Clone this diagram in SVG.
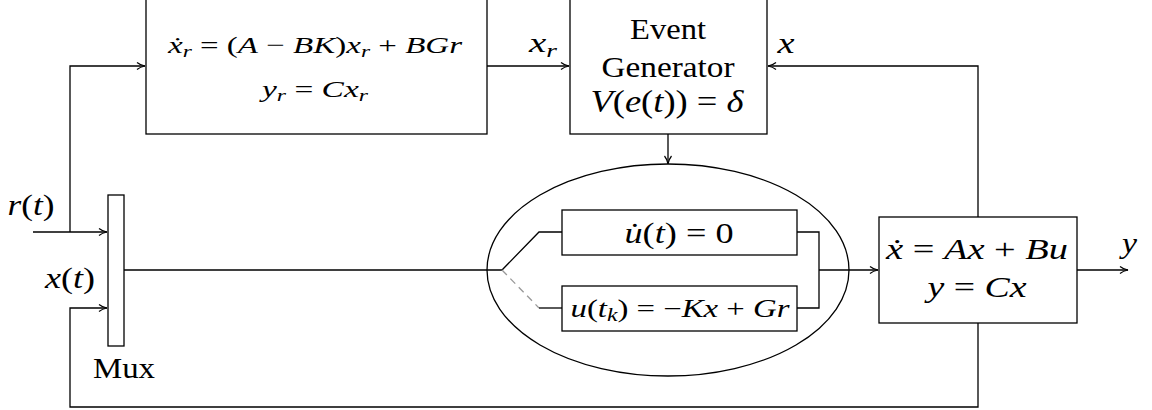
<svg xmlns="http://www.w3.org/2000/svg" width="1152" height="410" viewBox="0 0 1152 410">
<defs>
<marker id="arr" markerWidth="10" markerHeight="8" refX="9" refY="4" orient="auto" markerUnits="userSpaceOnUse">
<path d="M1,0.5 Q4,3 9,4 Q4,5 1,7.5" fill="none" stroke="#000" stroke-width="1.2"/>
</marker>
</defs>
<style>
.box{fill:#fff;stroke:#000;stroke-width:1.3}
.ln{fill:none;stroke:#000;stroke-width:1.3}
.dash{fill:none;stroke:#999;stroke-width:1.3;stroke-dasharray:7,5}
text{font-family:"Liberation Serif","DejaVu Serif",serif;fill:#000}
.m{font-style:italic}
.u{font-style:normal}
</style>
<g id="connectors">
<path class="ln" d="M487,66 H569" marker-end="url(#arr)"/>
<path class="ln" d="M978,217 V66 H768" marker-end="url(#arr)"/>
<path class="ln" d="M668,134 V164" marker-end="url(#arr)"/>
<path class="ln" d="M33,232 H107" marker-end="url(#arr)"/>
<path class="ln" d="M70,232 V66 H145" marker-end="url(#arr)"/>
<path class="ln" d="M978,323 V407 H70 V308 H107" marker-end="url(#arr)"/>
<path class="ln" d="M124,270 H502 L539,232 H562"/>
<path class="dash" d="M502,270 L539,308"/>
<path class="ln" d="M539,308 H562"/>
<path class="ln" d="M797,232 H819 V308 H797"/>
<path class="ln" d="M819,270 H878" marker-end="url(#arr)"/>
<path class="ln" d="M1077,270 H1128" marker-end="url(#arr)"/>
</g>
<g id="ellipse"><ellipse cx="668" cy="270" rx="181" ry="106" class="ln"/></g>
<g id="reference-model">
<rect class="box" x="146" y="-10" width="341" height="144"/>
<text x="315" y="53" font-size="24" text-anchor="middle" textLength="294" lengthAdjust="spacingAndGlyphs" class="m">ẋ<tspan font-size="17" dy="4">r</tspan><tspan dy="-4" class="u"> = (</tspan>A<tspan class="u"> − </tspan>BK<tspan class="u">)</tspan>x<tspan font-size="17" dy="4">r</tspan><tspan dy="-4" class="u"> + </tspan>BGr</text>
<text x="315" y="97" font-size="24" text-anchor="middle" textLength="106" lengthAdjust="spacingAndGlyphs" class="m">y<tspan font-size="17" dy="4">r</tspan><tspan dy="-4" class="u"> = </tspan>Cx<tspan font-size="17" dy="4">r</tspan></text>
</g>
<g id="event-generator">
<rect class="box" x="570" y="-10" width="197" height="144"/>
<text x="668" y="39" font-size="30" text-anchor="middle" textLength="76" lengthAdjust="spacingAndGlyphs">Event</text>
<text x="668" y="77" font-size="30" text-anchor="middle" textLength="133" lengthAdjust="spacingAndGlyphs">Generator</text>
<text x="667" y="112" font-size="31" text-anchor="middle" textLength="153" lengthAdjust="spacingAndGlyphs" class="m">V<tspan class="u">(</tspan>e<tspan class="u">(</tspan>t<tspan class="u">)) = </tspan>δ</text>
</g>
<g id="mux">
<rect class="box" x="108" y="195" width="16" height="151"/>
<text x="124" y="378" font-size="29" text-anchor="middle" textLength="62" lengthAdjust="spacingAndGlyphs">Mux</text>
</g>
<g id="hold">
<rect class="box" x="562" y="210" width="235" height="45"/>
<text x="679" y="243" font-size="29" text-anchor="middle" textLength="109" lengthAdjust="spacingAndGlyphs" class="m">u̇<tspan class="u">(</tspan>t<tspan class="u">) = 0</tspan></text>
</g>
<g id="update">
<rect class="box" x="562" y="286" width="235" height="45"/>
<text x="680" y="317" font-size="25" text-anchor="middle" textLength="219" lengthAdjust="spacingAndGlyphs" class="m">u<tspan class="u">(</tspan>t<tspan font-size="18" dy="4">k</tspan><tspan class="u" dy="-4">) = −</tspan>Kx<tspan class="u"> + </tspan>Gr</text>
</g>
<g id="plant">
<rect class="box" x="879" y="217" width="198" height="106"/>
<text x="977" y="259" font-size="29" text-anchor="middle" textLength="182" lengthAdjust="spacingAndGlyphs" class="m">ẋ<tspan class="u"> = </tspan>Ax<tspan class="u"> + </tspan>Bu</text>
<text x="977" y="297" font-size="29" text-anchor="middle" textLength="99" lengthAdjust="spacingAndGlyphs" class="m">y<tspan class="u"> = </tspan>Cx</text>
</g>
<g id="labels">
<text x="543" y="52" font-size="27" class="m" text-anchor="middle" textLength="28" lengthAdjust="spacingAndGlyphs">x<tspan font-size="19" dy="5">r</tspan></text>
<text x="786" y="53" font-size="29" class="m" text-anchor="middle" textLength="17" lengthAdjust="spacingAndGlyphs">x</text>
<text x="1129.5" y="253" font-size="29" class="m" text-anchor="middle" textLength="15" lengthAdjust="spacingAndGlyphs">y</text>
<text x="31" y="215" font-size="30" class="m" text-anchor="middle" textLength="47" lengthAdjust="spacingAndGlyphs">r<tspan class="u">(</tspan>t<tspan class="u">)</tspan></text>
<text x="70" y="288" font-size="30" class="m" text-anchor="middle" textLength="50" lengthAdjust="spacingAndGlyphs">x<tspan class="u">(</tspan>t<tspan class="u">)</tspan></text>
</g>
</svg>
